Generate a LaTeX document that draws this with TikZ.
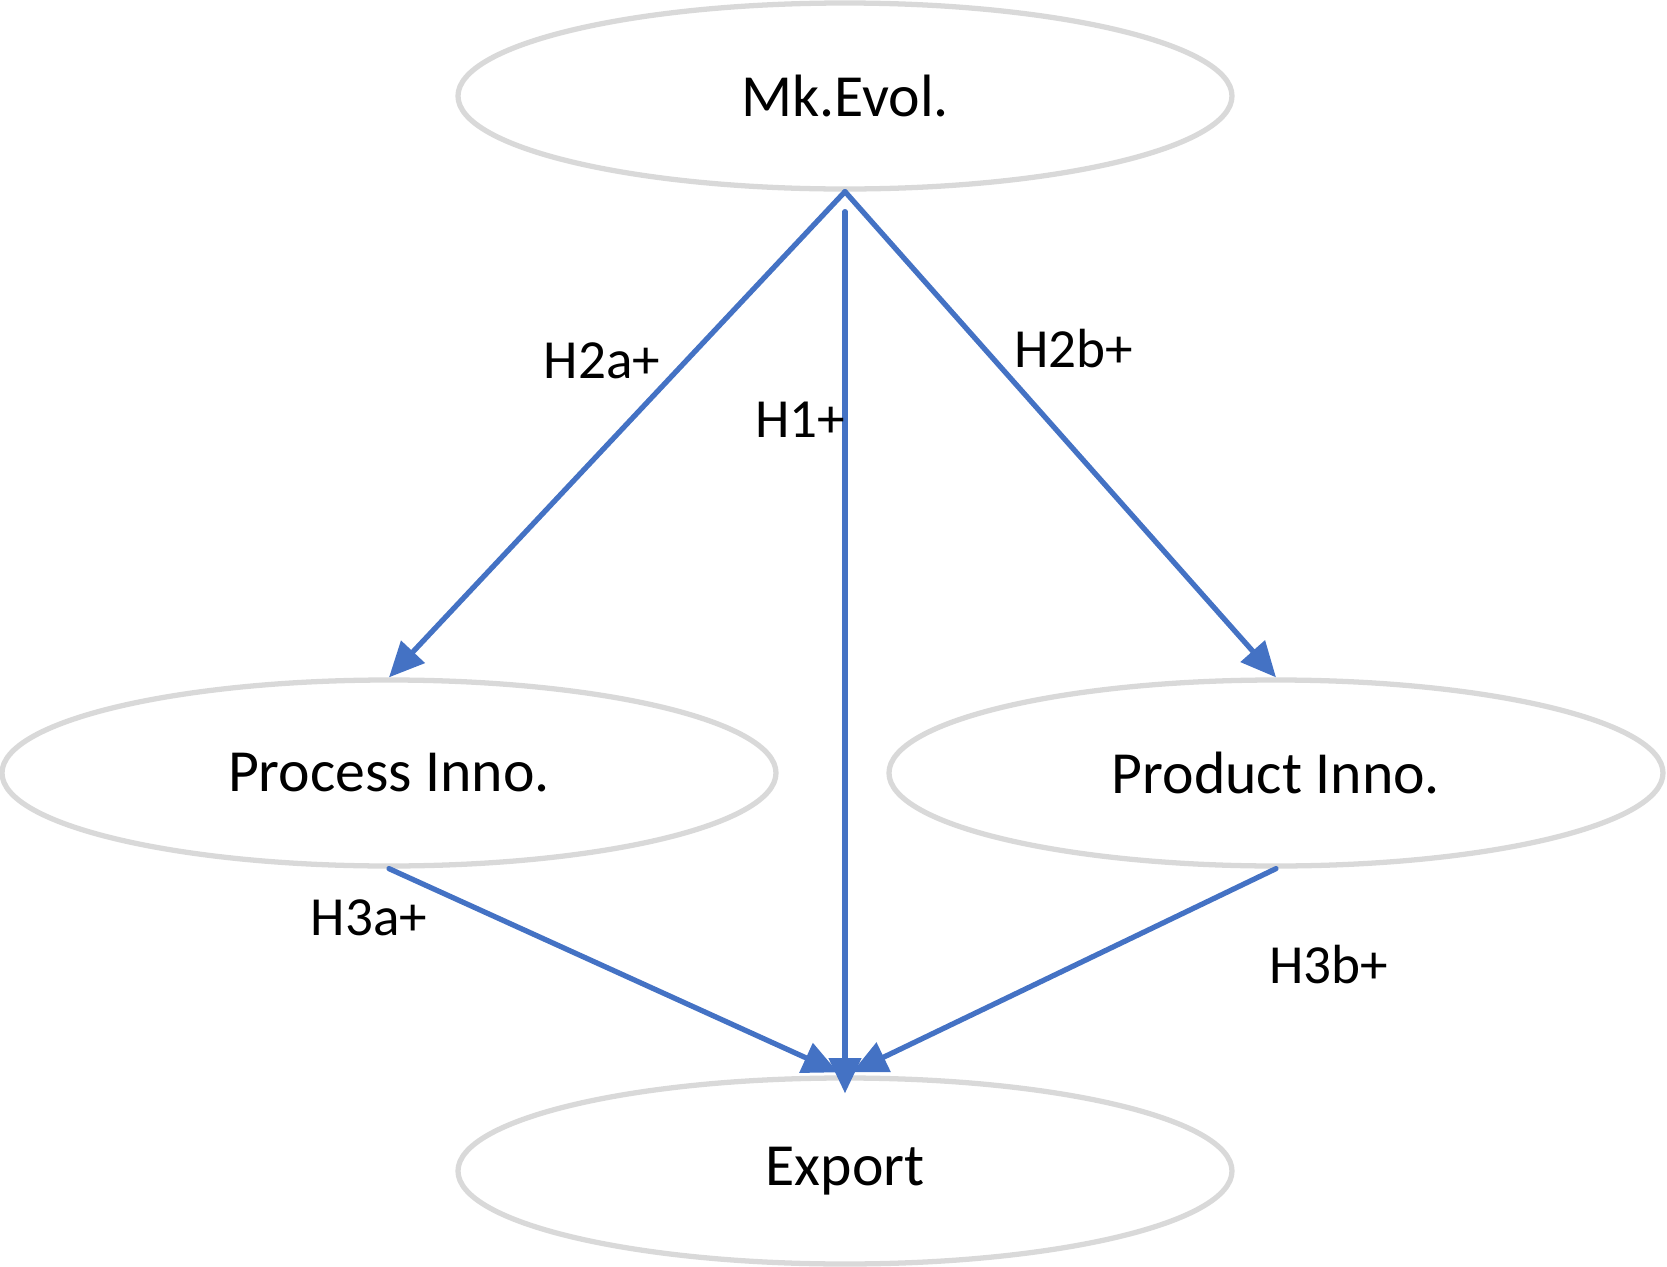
\documentclass[tikz,border=0pt]{standalone}
\usepackage{fontspec}
\setmainfont{Carlito}
\usetikzlibrary{shapes.geometric,arrows.meta}
\definecolor{linkblue}{HTML}{4472C4}
\definecolor{ellgray}{HTML}{D9D9D9}
\begin{document}
\begin{tikzpicture}[line cap=round, line join=round, >={Triangle[length=10pt,width=9pt]},
		var/.style={ellipse, draw=ellgray, line width=1.5pt, minimum width=7.74cm, minimum height=1.86cm, inner sep=0pt, font=\fontsize{17}{20}\selectfont},
		hyp/.style={inner sep=0pt, font=\fontsize{15.7}{18}\selectfont},
		link/.style={->, draw=linkblue, line width=1.5pt}]
			\useasboundingbox (0,0) rectangle (16.67,-12.67);
			
			\node[var] (mk) at (8.45,-0.96) {Mk.Evol.};
			\node[var] (proc) at (3.89,-7.73) {Process Inno.};
			\node[var] (prod) at (12.76,-7.73) {Product Inno.};
			\node[var] (exp) at (8.45,-11.71) {Export};
			
			\draw[link] (mk.south) -- (proc.north);
			\draw[link] (mk.south) -- (prod.north);
			\draw[link] ([yshift=-0.2cm]mk.south) -- ([yshift=-0.18cm]exp.north);
			\draw[link] (proc.south) -- ([xshift=-0.07cm,yshift=0.03cm]exp.north);
			\draw[link] (prod.south) -- ([xshift=0.07cm,yshift=0.03cm]exp.north);
			
			\node[hyp] (h2a) at (6.02,-3.61) {H2a+};
			\node[hyp] (h1) at (8.00,-4.20) {H1+};
			\node[hyp] (h2b) at (10.74,-3.49) {H2b+};
			\node[hyp] (h3a) at (3.69,-9.18) {H3a+};
			\node[hyp] (h3b) at (13.29,-9.65) {H3b+};
	\end{tikzpicture}
\end{document}
